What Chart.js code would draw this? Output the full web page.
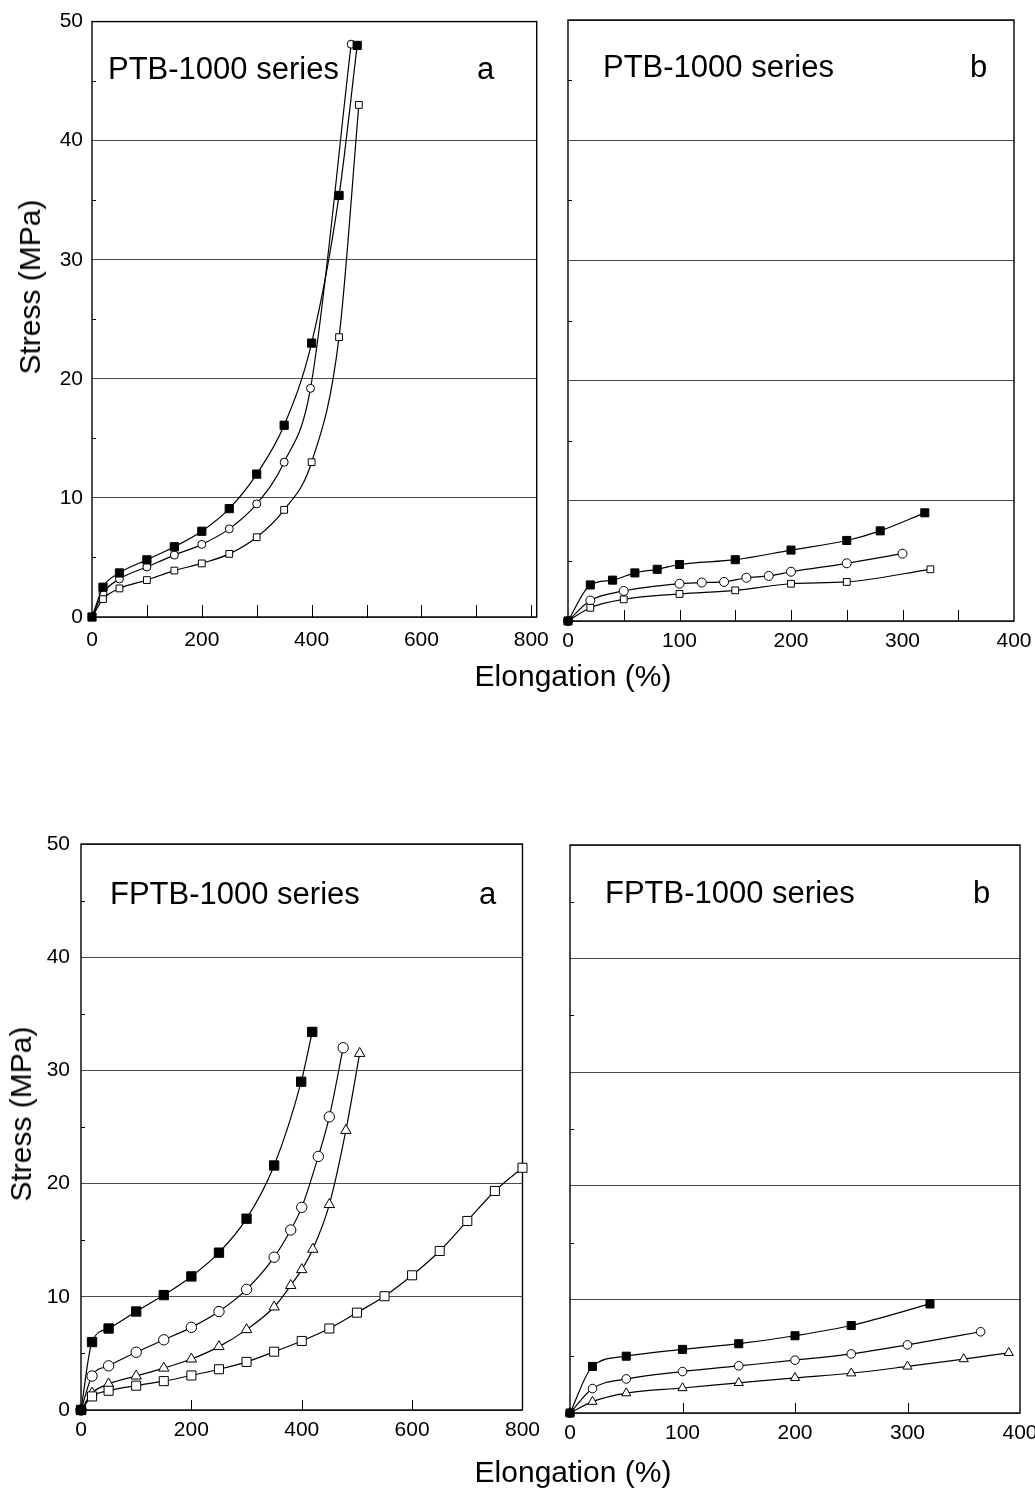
<!DOCTYPE html>
<html>
<head>
<meta charset="utf-8">
<title>Stress-strain curves, PTB-1000 and FPTB-1000 series</title>
<script src="https://cdn.jsdelivr.net/npm/chart.js@4.4.1/dist/chart.umd.min.js"></script>
<style>
  html, body { margin: 0; padding: 0; background: #fff; }
  #page { position: relative; width: 1035px; height: 1492px; overflow: hidden;
          font-family: "Liberation Sans", Arial, Helvetica, sans-serif; color: #000; }
  canvas { position: absolute; }
  .ytitle { position: absolute; font-size: 30px; line-height: 1; white-space: nowrap;
            transform: translate(-50%, -50%) rotate(-90deg); }
  .xtitle { position: absolute; font-size: 30px; line-height: 1; white-space: nowrap;
            transform: translateX(-50%); }
</style>
</head>
<body>
<div id="page">
  <canvas id="ptbA"  width="560" height="660" style="left:0;top:0"></canvas>
  <canvas id="ptbB"  width="500" height="660" style="left:548px;top:0"></canvas>
  <canvas id="fptbA" width="548" height="680" style="left:0;top:780px"></canvas>
  <canvas id="fptbB" width="500" height="680" style="left:548px;top:780px"></canvas>

  <div class="ytitle" style="left:30px;top:287px">Stress (MPa)</div>
  <div class="ytitle" style="left:21px;top:1114px">Stress (MPa)</div>
  <div class="xtitle" style="left:573px;top:661px">Elongation (%)</div>
  <div class="xtitle" style="left:573px;top:1457px">Elongation (%)</div>
</div>

<script>
// ---- data (elongation %, stress MPa) ----

// tick labels
const stressTicks = [0, 10, 20, 30, 40, 50];
const wideElongTicks = [0, 200, 400, 600, 800];
const narrowElongTicks = [0, 100, 200, 300, 400];

// PTB-1000 series, panel a
const ptbA_solidX  = [0, 20, 50, 100, 150, 200, 250, 300, 350, 400, 450, 483];
const ptbA_solidY  = [0, 2.5, 3.7, 4.8, 5.9, 7.2, 9.1, 12.0, 16.1, 23.0, 35.4, 48.0];
const ptbA_circleX = [0, 20, 50, 100, 150, 200, 250, 300, 350, 398, 472];
const ptbA_circleY = [0, 2.0, 3.2, 4.2, 5.2, 6.1, 7.4, 9.5, 13.0, 19.2, 48.1];
const ptbA_squareX = [0, 20, 50, 100, 150, 200, 250, 300, 350, 400, 450, 486];
const ptbA_squareY = [0, 1.5, 2.4, 3.1, 3.9, 4.5, 5.3, 6.7, 9.0, 13.0, 23.5, 43.0];

// PTB-1000 series, panel b
const ptbB_solidX  = [0, 20, 40, 60, 80, 100, 150, 200, 250, 280, 320];
const ptbB_solidY  = [0, 3.0, 3.4, 4.0, 4.3, 4.7, 5.1, 5.9, 6.7, 7.5, 9.0];
const ptbB_circleX = [0, 20, 50, 100, 120, 140, 160, 180, 200, 250, 300];
const ptbB_circleY = [0, 1.7, 2.5, 3.1, 3.2, 3.25, 3.6, 3.75, 4.1, 4.8, 5.6];
const ptbB_squareX = [0, 20, 50, 100, 150, 200, 250, 325];
const ptbB_squareY = [0, 1.1, 1.8, 2.25, 2.55, 3.1, 3.25, 4.3];

// FPTB-1000 series, panel a
const fptbA_solidX    = [0, 20, 50, 100, 150, 200, 250, 300, 350, 399, 419];
const fptbA_solidY    = [0, 6.0, 7.2, 8.7, 10.15, 11.8, 13.9, 16.9, 21.6, 29.0, 33.4];
const fptbA_circleX   = [0, 20, 50, 100, 150, 200, 250, 300, 350, 380, 400, 430, 450, 475];
const fptbA_circleY   = [0, 3.0, 3.9, 5.1, 6.2, 7.3, 8.7, 10.65, 13.5, 15.9, 17.9, 22.4, 25.9, 32.0];
const fptbA_triangleX = [0, 20, 50, 100, 150, 200, 250, 300, 350, 380, 400, 420, 450, 480, 505];
const fptbA_triangleY = [0, 1.5, 2.3, 3.0, 3.7, 4.5, 5.6, 7.1, 9.1, 11.0, 12.4, 14.2, 18.15, 24.7, 31.5];
const fptbA_squareX   = [0, 20, 50, 100, 150, 200, 250, 300, 350, 400, 450, 500, 550, 600, 650, 700, 750, 800];
const fptbA_squareY   = [0, 1.2, 1.7, 2.15, 2.55, 3.05, 3.6, 4.25, 5.15, 6.1, 7.2, 8.6, 10.05, 11.9, 14.05, 16.7, 19.35, 21.4];

// FPTB-1000 series, panel b
const fptbB_solidX    = [0, 20, 50, 100, 150, 200, 250, 320];
const fptbB_solidY    = [0, 4.1, 5.0, 5.6, 6.1, 6.8, 7.7, 9.6];
const fptbB_circleX   = [0, 20, 50, 100, 150, 200, 250, 300, 365];
const fptbB_circleY   = [0, 2.15, 3.0, 3.65, 4.15, 4.65, 5.2, 6.0, 7.15];
const fptbB_triangleX = [0, 20, 50, 100, 150, 200, 250, 300, 350, 390];
const fptbB_triangleY = [0, 1.0, 1.75, 2.2, 2.65, 3.1, 3.5, 4.1, 4.75, 5.3];

// ---- helpers ----
Chart.defaults.font.family = '"Liberation Sans", Arial, Helvetica, sans-serif';
Chart.defaults.color = '#000';

const pts = (xs, ys) => xs.map((x, i) => ({ x: x, y: ys[i] }));

function series(xs, ys, style, radius, filled) {
  return {
    data: pts(xs, ys),
    showLine: true,
    cubicInterpolationMode: 'monotone',
    borderColor: '#000',
    borderWidth: 1.2,
    pointStyle: style,
    pointRadius: radius,
    pointBackgroundColor: filled ? '#000' : '#fff',
    pointBorderColor: '#000',
    pointBorderWidth: 1,
    clip: false,
    order: filled ? 0 : 1
  };
}

// frame, inward tick marks and the in-plot labels
const panelPlugin = {
  id: 'panel',
  beforeDatasetsDraw(chart, args, opts) {
    const { ctx, chartArea: a, scales: { x, y } } = chart;
    ctx.save();
    ctx.strokeStyle = '#000';
    ctx.lineWidth = 1.4;
    ctx.strokeRect(a.left, a.top, a.right - a.left, a.bottom - a.top);

    ctx.lineWidth = 1;
    ctx.beginPath();
    for (let v = opts.markStep; v < x.max - 1; v += opts.markStep) {
      const px = Math.round(x.getPixelForValue(v)) + 0.5;
      ctx.moveTo(px, a.bottom);
      ctx.lineTo(px, a.bottom - opts.markLen);
    }
    for (let v = 5; v < 50; v += 10) {
      const py = Math.round(y.getPixelForValue(v)) + 0.5;
      ctx.moveTo(a.left, py);
      ctx.lineTo(a.left + 4, py);
    }
    ctx.stroke();

    ctx.fillStyle = '#000';
    ctx.font = '31px "Liberation Sans", Arial, Helvetica, sans-serif';
    ctx.textBaseline = 'alphabetic';
    ctx.textAlign = 'left';
    ctx.fillText(opts.title, opts.titleX, opts.baseline);
    ctx.fillText(opts.letter, opts.letterX, opts.baseline);
    ctx.restore();
  }
};

function makeChart(id, cfg) {
  return new Chart(document.getElementById(id), {
    type: 'scatter',
    data: { datasets: cfg.datasets },
    options: {
      responsive: false,
      animation: false,
      events: [],
      layout: { padding: cfg.padding },
      plugins: {
        legend: { display: false },
        tooltip: { enabled: false },
        panel: cfg.panel
      },
      scales: {
        x: {
          type: 'linear',
          min: 0,
          max: cfg.xMax,
          afterBuildTicks: s => { s.ticks = cfg.xTicks.map(v => ({ value: v })); },
          afterFit: s => { s.height = cfg.xHeight; },
          grid: { display: false, drawTicks: false },
          border: { display: false },
          ticks: { padding: cfg.xPad, font: { size: 21 }, color: '#000', maxRotation: 0 }
        },
        y: {
          type: 'linear',
          min: 0,
          max: 50,
          afterBuildTicks: s => { s.ticks = stressTicks.map(v => ({ value: v })); },
          afterFit: s => { s.width = cfg.yWidth; },
          grid: { color: '#4a4a4a', lineWidth: 1, drawTicks: false },
          border: { display: false },
          ticks: { display: cfg.yLabels, padding: cfg.yPad, font: { size: 21 }, color: '#000' }
        }
      }
    },
    plugins: [panelPlugin]
  });
}

// ---- the four panels ----
makeChart('ptbA', {
  datasets: [
    series(ptbA_squareX, ptbA_squareY, 'rect', 4.8, false),
    series(ptbA_circleX, ptbA_circleY, 'circle', 4, false),
    series(ptbA_solidX, ptbA_solidY, 'rect', 5.8, true)
  ],
  xMax: 810, xTicks: wideElongTicks, xHeight: 43, xPad: 11,
  yWidth: 92, yPad: 9, yLabels: true,
  padding: { left: 0, right: 21, top: 20, bottom: 0 },
  panel: { title: 'PTB-1000 series', letter: 'a', titleX: 108, letterX: 477, baseline: 79, markStep: 100, markLen: 12 }
});

makeChart('ptbB', {
  datasets: [
    series(ptbB_squareX, ptbB_squareY, 'rect', 4.8, false),
    series(ptbB_circleX, ptbB_circleY, 'circle', 4.5, false),
    series(ptbB_solidX, ptbB_solidY, 'rect', 5.7, true)
  ],
  xMax: 400, xTicks: narrowElongTicks, xHeight: 39, xPad: 8,
  yWidth: 20, yPad: 8, yLabels: false,
  padding: { left: 0, right: 34, top: 20, bottom: 0 },
  panel: { title: 'PTB-1000 series', letter: 'b', titleX: 55, letterX: 422, baseline: 77, markStep: 50, markLen: 11 }
});

makeChart('fptbA', {
  datasets: [
    series(fptbA_squareX, fptbA_squareY, 'rect', 6.4, false),
    series(fptbA_triangleX, fptbA_triangleY, 'triangle', 6, false),
    series(fptbA_circleX, fptbA_circleY, 'circle', 5.2, false),
    series(fptbA_solidX, fptbA_solidY, 'rect', 6.6, true)
  ],
  xMax: 800, xTicks: wideElongTicks, xHeight: 50, xPad: 8,
  yWidth: 81, yPad: 11, yLabels: true,
  padding: { left: 0, right: 20, top: 64, bottom: 0 },
  panel: { title: 'FPTB-1000 series', letter: 'a', titleX: 110, letterX: 479, baseline: 124, markStep: 200, markLen: 10 }
});

makeChart('fptbB', {
  datasets: [
    series(fptbB_triangleX, fptbB_triangleY, 'triangle', 5.3, false),
    series(fptbB_circleX, fptbB_circleY, 'circle', 4.3, false),
    series(fptbB_solidX, fptbB_solidY, 'rect', 5.7, true)
  ],
  xMax: 400, xTicks: narrowElongTicks, xHeight: 47, xPad: 8,
  yWidth: 22, yPad: 8, yLabels: false,
  padding: { left: 0, right: 28, top: 65, bottom: 0 },
  panel: { title: 'FPTB-1000 series', letter: 'b', titleX: 57, letterX: 425, baseline: 123, markStep: 100, markLen: 10 }
});
</script>
</body>
</html>
